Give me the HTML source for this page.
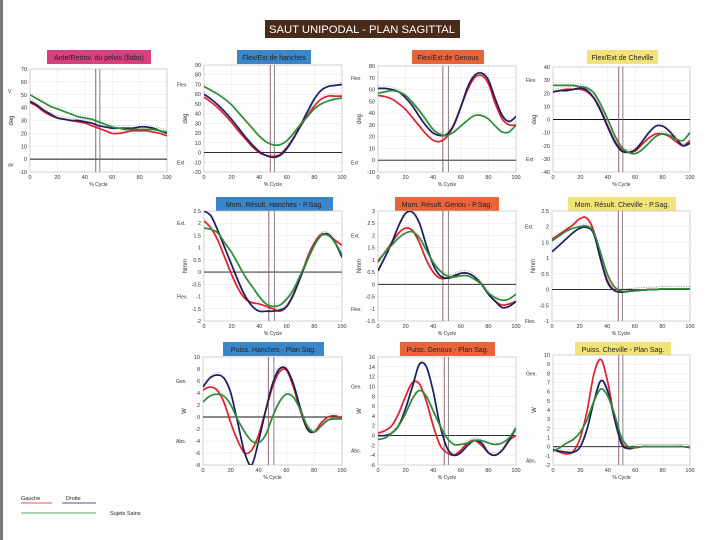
<!DOCTYPE html>
<html><head><meta charset="utf-8"><style>
html,body{margin:0;padding:0;background:#fff}
svg{display:block;font-family:"Liberation Sans",sans-serif}
</style></head><body>
<svg id="c" width="720" height="540" viewBox="0 0 720 540" xmlns="http://www.w3.org/2000/svg">
<rect x="0" y="0" width="720" height="540" fill="#fdfdfd"/>
<rect x="0" y="0" width="3" height="540" fill="#777"/>
<rect x="265" y="20" width="195" height="18" fill="#4a2a18"/>
<text x="362" y="33" text-anchor="middle" fill="#fff" font-size="11" textLength="186" lengthAdjust="spacingAndGlyphs">SAUT UNIPODAL - PLAN SAGITTAL</text>
<g>
<text x="21" y="500" font-size="5.5" fill="#222">Gauche</text>
<line x1="21" y1="503" x2="52" y2="503" stroke="#e02030" stroke-width="0.8"/>
<text x="66" y="500" font-size="5.5" fill="#222">Droite</text>
<line x1="62" y1="503" x2="96" y2="503" stroke="#1a1f5c" stroke-width="0.8"/>
<line x1="21" y1="513" x2="96" y2="513" stroke="#2f8a3a" stroke-width="0.8"/>
<text x="110" y="515" font-size="5.5" fill="#222">Sujets Sains</text>
</g>
</svg>
<script>
const xs=[0,5,10,15,20,25,30,35,40,45,50,55,60,65,70,75,80,85,90,95,100];
const xTicks=[0,20,40,60,80,100];
// P1 pelvis
const p1Red=[44,41,37,34,32,31,30,29,28,26,24,22,20,20,21,22,22,22,21,20,18];
const p1Blue=[45,42,38,35,32,31,30,30,29,28,26,25,24,24,24,24,25,25,24,22,20];
const p1Green=[50,47,44,41,39,37,35,33,32,31,29,27,25,24,23,23,23,23,23,22,21];
// P2 hanches
const p2Red=[57,52,46,39,31,22,14,6,0,-3,-4,-2,5,15,27,38,48,55,58,58,58];
const p2Blue=[60,55,49,42,34,25,16,8,1,-3,-5,-3,4,15,28,42,55,64,68,69,70];
const p2Green=[68,64,60,55,49,41,33,25,17,11,8,8,12,20,29,37,45,50,53,55,56];
// P3 genoux
const p3Red=[55,54,52,48,43,36,29,22,17,16,20,30,45,60,70,72,65,48,35,30,30];
const p3Blue=[61,61,60,58,53,46,37,29,23,21,22,30,45,62,72,74,68,52,38,33,37];
const p3Green=[57,58,59,58,55,49,42,34,26,22,21,24,29,34,38,38,35,29,24,24,30];
// P4 cheville
const p4Red=[21,22,23,23,23,21,16,7,-5,-16,-23,-25,-24,-19,-14,-11,-11,-13,-17,-20,-16];
const p4Blue=[21,22,22,23,24,22,16,6,-6,-17,-24,-25,-23,-17,-10,-5,-5,-9,-15,-20,-18];
const p4Green=[26,26,26,26,25,24,20,11,0,-12,-21,-25,-26,-23,-18,-13,-11,-12,-15,-16,-10];
// P5 moment hanches
const p5Red=[2.1,1.8,1.3,0.6,-0.1,-0.7,-1.1,-1.25,-1.3,-1.4,-1.5,-1.6,-1.4,-0.9,-0.2,0.6,1.2,1.55,1.5,1.3,1.1];
const p5Blue=[2.5,2.3,1.7,1.0,0.3,-0.4,-1.0,-1.4,-1.6,-1.6,-1.6,-1.55,-1.4,-0.9,-0.2,0.5,1.1,1.5,1.55,1.2,0.6];
const p5Green=[1.8,1.75,1.6,1.2,0.8,0.3,-0.2,-0.6,-1.0,-1.3,-1.4,-1.35,-1.1,-0.7,-0.1,0.5,1.1,1.5,1.5,1.2,0.7];
// P6 moment genou
const p6Red=[0.95,1.3,1.7,2.1,2.3,2.2,1.7,1.0,0.5,0.25,0.25,0.3,0.45,0.45,0.3,0.0,-0.4,-0.7,-0.85,-0.8,-0.7];
const p6Blue=[0.55,1.1,1.7,2.4,2.9,2.95,2.5,1.6,0.8,0.35,0.25,0.35,0.45,0.45,0.3,0.0,-0.4,-0.7,-0.95,-0.9,-0.7];
const p6Green=[0.9,1.3,1.6,1.9,2.1,2.15,1.9,1.4,0.9,0.55,0.35,0.3,0.35,0.35,0.2,0.0,-0.35,-0.55,-0.65,-0.6,-0.4];
// P7 moment cheville
const p7Red=[1.6,1.75,1.9,2.05,2.25,2.28,1.9,1.0,0.3,-0.02,-0.07,-0.05,-0.03,-0.02,0,0,0.02,0.02,0.02,0.02,0.02];
const p7Blue=[1.2,1.4,1.6,1.8,1.95,1.98,1.8,1.0,0.25,-0.03,-0.08,-0.06,-0.04,-0.02,0,0,0.02,0.02,0.02,0.02,0.02];
const p7Green=[1.55,1.7,1.85,1.95,2.0,2.02,1.85,1.2,0.5,0.1,-0.05,-0.05,-0.03,-0.02,0,0,0.02,0.02,0.02,0.02,0.02];
// P8 puissance hanches
const p8Red=[4.5,5,4.5,2.5,-1,-4,-6,-5.5,-3,1,5,7.5,7.8,5,1,-2,-2.5,-1,0,0.2,-0.2];
const p8Blue=[5,6.5,7,6.5,4,-1,-6,-8,-4,1,5.5,8,8,5.5,1.5,-2,-2.5,-1.5,-0.5,-0.3,-0.3];
const p8Green=[2.5,3.5,3.8,3.5,2,-0.5,-2.5,-4,-4.3,-3,0,2.5,3.8,3.3,1.2,-1.5,-2.5,-1.5,-0.5,-0.3,-0.3];
// P9 puissance genou
const p9Red=[0.5,1,2,4.5,8,10.8,10.5,7,2,-2,-3.5,-4,-3,-1.5,-1,-2,-3.5,-4,-3,-1,0];
const p9Blue=[0,0,0.5,2,5.5,10,14.5,14,9,2,-2.5,-4,-3.5,-2,-1,-1.5,-3.5,-4,-3,-1,1.5];
const p9Green=[-0.8,-0.5,0.5,2,4.5,7.5,9.2,8,5,2,-0.5,-1.8,-1.8,-1.5,-1,-1,-1.5,-1.8,-1.5,-0.5,1.5];
// P10 puissance cheville
const p10Red=[-0.3,-0.6,-0.8,-0.5,1,4,8,9.5,7,3,0.5,-0.2,-0.1,0,0,0,0,0,0,0,-0.1];
const p10Blue=[-0.3,-0.5,-0.6,-0.6,0,2,5,7.2,6,3,0.3,-0.2,-0.1,0,0,0,0,0,0,0,-0.1];
const p10Green=[-0.5,-0.1,0.4,0.8,1.6,3,5,6.3,5.5,3.5,1,0,-0.1,0,0,0,0,0,0,0,-0.1];

const NS="http://www.w3.org/2000/svg";
const svg=document.getElementById('c');
function mk(t,a,p){const e=document.createElementNS(NS,t);for(const k in a)e.setAttribute(k,a[k]);(p||svg).appendChild(e);return e;}
function smooth(pts){let d='M'+pts[0][0].toFixed(1)+','+pts[0][1].toFixed(1);
for(let i=0;i<pts.length-1;i++){const p0=pts[i-1]||pts[i],p1=pts[i],p2=pts[i+1],p3=pts[i+2]||p2;
const c1=[p1[0]+(p2[0]-p0[0])/6,p1[1]+(p2[1]-p0[1])/6],c2=[p2[0]-(p3[0]-p1[0])/6,p2[1]-(p3[1]-p1[1])/6];
d+='C'+c1[0].toFixed(1)+','+c1[1].toFixed(1)+' '+c2[0].toFixed(1)+','+c2[1].toFixed(1)+' '+p2[0].toFixed(1)+','+p2[1].toFixed(1);}return d;}

const panels=[
{id:'pelvis',L:30,R:167,T:69,B:172,min:-10,max:70,step:10,title:'Ante/Retrov. du pelvis (flabo)',tc:'#d9407e',tx:47,tw:104,ty:50,unit:'deg',up:'V',upv:53,lo:'av',lov:-4,v:[48,51],d:[p1Red,p1Blue,p1Green]},
{id:'hanches',L:204,R:342,T:65,B:172,min:-20,max:90,step:10,title:'Flex/Ext de hanches',tc:'#3a86c8',tx:237,tw:74,ty:50,unit:'deg',up:'Flex',upv:70,lo:'Ext',lov:-10,v:[48,51],d:[p2Red,p2Blue,p2Green]},
{id:'genoux',L:378,R:516,T:66,B:172,min:-10,max:80,step:10,title:'Flex/Ext de Genoux',tc:'#e8643a',tx:412,tw:72,ty:50,unit:'deg',up:'Flex',upv:70,lo:'Ext',lov:-2,v:[47,51],d:[p3Red,p3Blue,p3Green]},
{id:'cheville',L:553,R:690,T:67,B:172,min:-40,max:40,step:10,title:'Flex/Ext de Cheville',tc:'#f2e27a',tx:587,tw:71,ty:50,unit:'deg',up:'Flex',upv:30,lo:'Ext',lov:-30,v:[48,51],d:[p4Red,p4Blue,p4Green]},
{id:'mom-hanches',L:204,R:342,T:211,B:321,min:-2,max:2.5,step:0.5,title:'Mom. Résult. Hanches - P.Sag.',tc:'#3a86c8',tx:216,tw:117,ty:197,unit:'Nmm',up:'Ext.',upv:2,lo:'Flex.',lov:-1,v:[47,51],d:[p5Red,p5Blue,p5Green]},
{id:'mom-genou',L:378,R:516,T:211,B:321,min:-1.5,max:3,step:0.5,title:'Mom. Résult. Genou - P.Sag.',tc:'#e8643a',tx:395,tw:104,ty:197,unit:'Nmm',up:'Ext.',upv:2,lo:'Flex.',lov:-1,v:[47,51],d:[p6Red,p6Blue,p6Green]},
{id:'mom-cheville',L:552,R:690,T:211,B:321,min:-1,max:2.5,step:0.5,title:'Mom. Résult. Cheville - P.Sag.',tc:'#f2e27a',tx:568,tw:108,ty:197,unit:'Nmm',up:'Ext.',upv:2,lo:'Flex.',lov:-1,v:[48,51],d:[p7Red,p7Blue,p7Green]},
{id:'puiss-hanches',L:203,R:342,T:357,B:465,min:-8,max:10,step:2,title:'Puiss. Hanches - Plan Sag.',tc:'#3a86c8',tx:223,tw:101,ty:342,unit:'W',up:'Gen.',upv:6,lo:'Abs.',lov:-4,v:[47,51],d:[p8Red,p8Blue,p8Green]},
{id:'puiss-genou',L:378,R:516,T:357,B:465,min:-6,max:16,step:2,title:'Puiss. Genoux - Plan Sag.',tc:'#e8643a',tx:400,tw:95,ty:342,unit:'W',up:'Gen.',upv:10,lo:'Abs.',lov:-3,v:[48,51],d:[p9Red,p9Blue,p9Green]},
{id:'puiss-cheville',L:553,R:690,T:355,B:465,min:-2,max:10,step:1,title:'Puiss. Cheville - Plan Sag.',tc:'#f2e27a',tx:575,tw:96,ty:342,unit:'W',up:'Gen.',upv:8,lo:'Abs.',lov:-1.5,v:[48,51],d:[p10Red,p10Blue,p10Green]}
];
const cols=['#e02030','#1a1f5c','#2f8a3a'];
const sn=['gauche','droite','sains'];
panels.forEach(p=>{
 const g=mk('g',{});
 
 
 const X=v=>p.L+(v/100)*(p.R-p.L);
 const Y=v=>p.B-(v-p.min)/(p.max-p.min)*(p.B-p.T);
 const tb=mk('rect',{x:p.tx,y:p.ty,width:p.tw,height:14,fill:p.tc},g);
 
 const tt=mk('text',{x:p.tx+p.tw/2,y:p.ty+10,'text-anchor':'middle','font-size':7,fill:'#222'},g);tt.textContent=p.title;
 
 mk('rect',{x:p.L,y:p.T,width:p.R-p.L,height:p.B-p.T,fill:'#fff',stroke:'#bbb','stroke-width':0.6},g);
 const n=Math.round((p.max-p.min)/p.step);
 for(let i=0;i<=n;i++){const v=+(p.min+i*p.step).toFixed(2);const y=Y(v);
  mk('line',{x1:p.L,x2:p.R,y1:y,y2:y,stroke:'#ccc','stroke-width':0.5,'stroke-dasharray':'1,1'},g);
  const t=mk('text',{x:p.L-3,y:y+2,'text-anchor':'end','font-size':5.5,fill:'#333'},g);t.textContent=v;
  }
 xTicks.forEach(v=>{const x=X(v);
  mk('line',{x1:x,x2:x,y1:p.T,y2:p.B,stroke:'#ccc','stroke-width':0.5,'stroke-dasharray':'1,1'},g);
  const t=mk('text',{x:x,y:p.B+7,'text-anchor':'middle','font-size':5.5,fill:'#333'},g);t.textContent=v;
  });
 const xl=mk('text',{x:(p.L+p.R)/2,y:p.B+14,'text-anchor':'middle','font-size':5,fill:'#333'},g);xl.textContent='% Cycle';
 
 const yl=mk('text',{x:0,y:0,'text-anchor':'middle','font-size':6,fill:'#333',transform:`translate(${p.L-17},${(p.T+p.B)/2}) rotate(-90)`},g);yl.textContent=p.unit;
 
 const sx=Math.max(p.L-27,8);
 const ul=mk('text',{x:sx,y:Y(p.upv)+2,'font-size':5,fill:'#333','text-anchor':'start'},g);ul.textContent=p.up;
 
 const ll=mk('text',{x:sx,y:Y(p.lov)+2,'font-size':5,fill:'#333','text-anchor':'start'},g);ll.textContent=p.lo;
 
 if(p.min<0){const z=Y(0);mk('line',{x1:p.L,x2:p.R,y1:z,y2:z,stroke:'#111','stroke-width':0.9},g);}
 p.v.forEach((v,i)=>{mk('line',{x1:X(v),x2:X(v),y1:p.T,y2:p.B,stroke:i?'#777':'#8a5060','stroke-width':0.9},g);});
 const cp=mk('clipPath',{id:'cl-'+p.id},g);mk('rect',{x:p.L,y:p.T,width:p.R-p.L,height:p.B-p.T},cp);
 p.d.forEach((arr,si)=>{
  const pts=xs.map((x,i)=>[X(x),Y(arr[i])]);
  const band=mk('path',{d:smooth(pts.map(q=>[q[0],q[1]-2.5])),fill:'none',stroke:cols[si],'stroke-width':0.4,'stroke-dasharray':'1,1.5','clip-path':`url(#cl-${p.id})`,opacity:0.7},g);
  
  const ln=mk('path',{d:smooth(pts),fill:'none',stroke:cols[si],'stroke-width':1.7,'clip-path':`url(#cl-${p.id})`},g);
  
 });
});
</script>
</body></html>
